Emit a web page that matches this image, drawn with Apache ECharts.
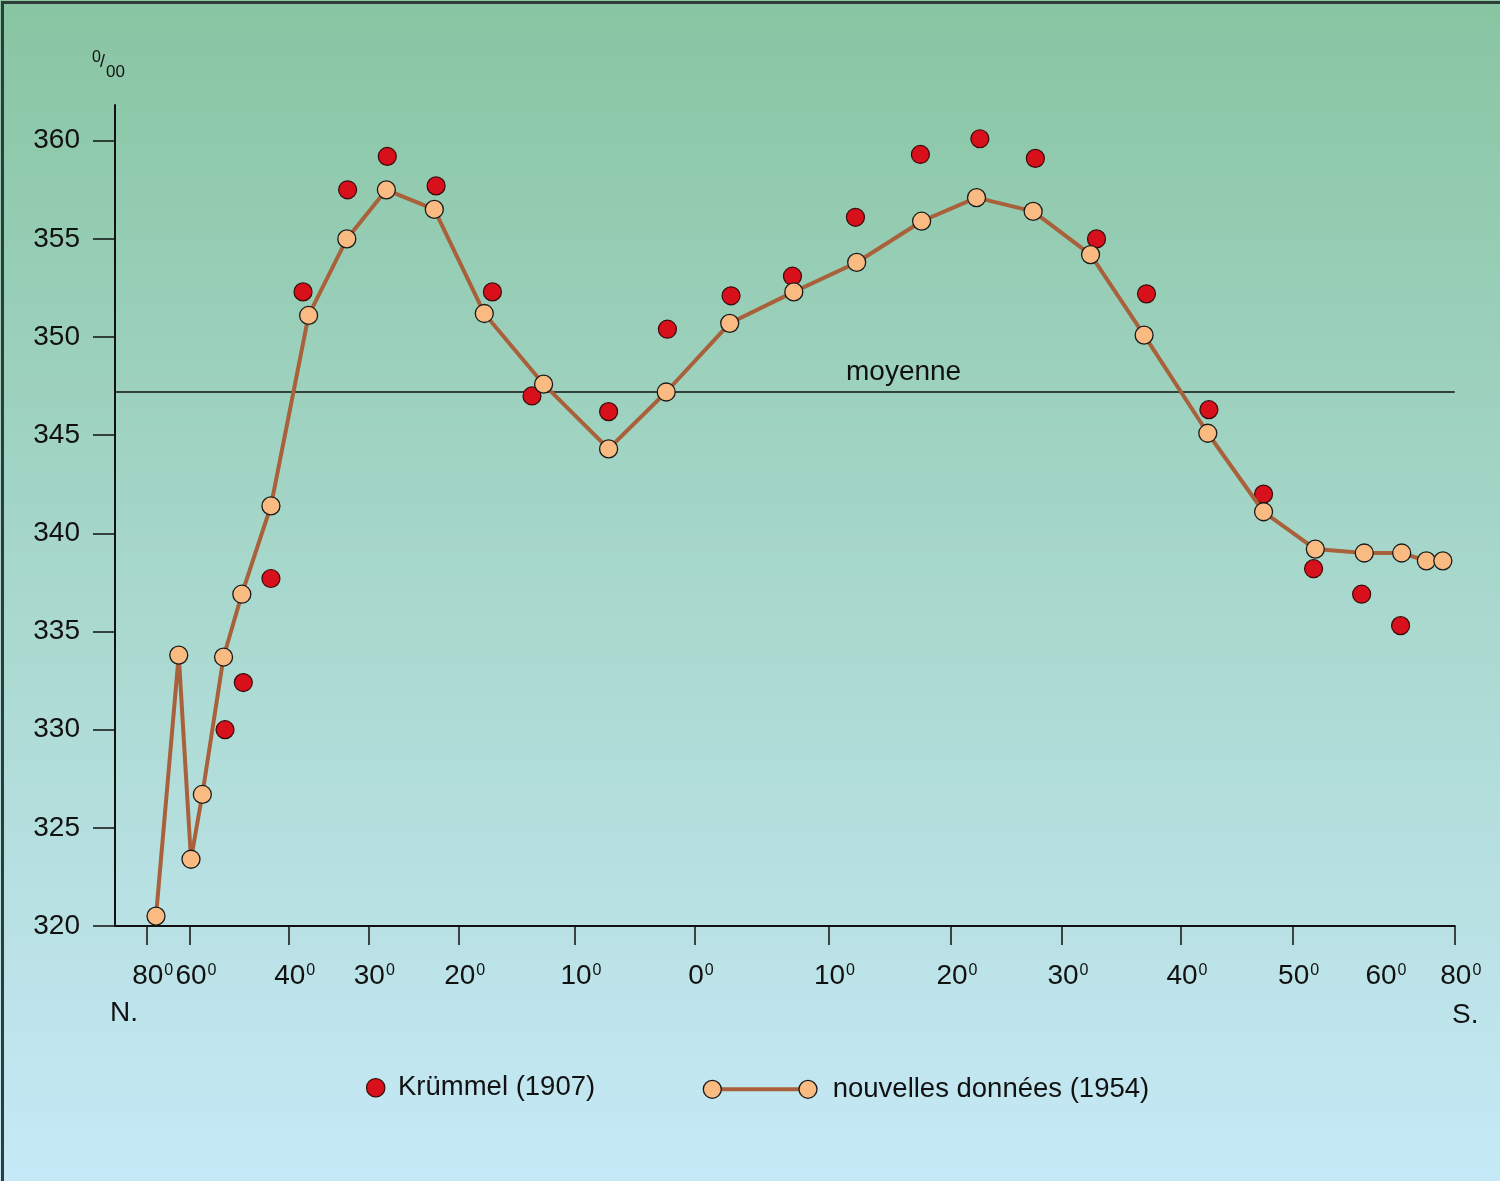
<!DOCTYPE html>
<html>
<head>
<meta charset="utf-8">
<script src="https://cdn.jsdelivr.net/npm/echarts@6/dist/echarts.min.js"></script>
<style>
html,body{margin:0;padding:0;background:#fff;}
#chart{width:1500px;height:1181px;}
</style>
</head>
<body>
<div id="chart"></div>
<script>
// ---- Data (latitude: N positive, S negative; salinity in 0/00 x10) ----
const newLat = [75.7,65.2,59.8,57.5,53.2,49.5,43.6,37.5,32.7,28.0,22.7,17.8,12.7,7.2,2.4,-2.6,-7.4,-12.3,-17.6,-22.3,-27.4,-32.4,-36.9,-42.4,-47.4,-52.6,-58.2,-65.8,-72.4,-76.8];
const newSal = [320.5,333.8,323.4,326.7,333.7,336.9,341.4,351.1,355.0,357.5,356.5,351.2,347.6,344.3,347.2,350.7,352.3,353.8,355.9,357.1,356.4,354.2,350.1,345.1,341.1,339.2,339.0,339.0,338.6,338.6];
const krLat = [52.9,49.2,43.6,38.2,32.6,27.9,22.5,17.1,13.7,7.2,2.3,-2.7,-7.3,-12.2,-17.5,-22.6,-27.6,-32.9,-37.1,-42.5,-47.4,-52.4,-57.9,-65.5];
const krSal = [330.0,332.4,337.7,352.3,357.5,359.2,357.7,352.3,347.0,346.2,350.4,352.1,353.1,356.1,359.3,360.1,359.1,355.0,352.2,346.3,342.0,338.2,336.9,335.3];
const moyenne = 347.2;
const yTicks = [320,325,330,335,340,345,350,355,360];
// labelled latitudes of the (distorted) latitude axis and their relative spacing along it
const latStops = [80,60,40,30,20,10,0,-10,-20,-30,-40,-50,-60,-80];
const stopPos  = [-548.3,-505,-406.3,-326.7,-236.3,-120,0,133.5,256,367,486,597.6,685,759.8];
const untickedLat = [-60];
const axisStart = -580;
const seriesNames = ['Krümmel (1907)', 'nouvelles données (1954)'];

function warp(lat){
  const n = latStops.length;
  for (let i = 0; i < n - 1; i++) {
    const a = latStops[i], b = latStops[i+1];
    if (lat <= a && lat >= b) {
      return stopPos[i] + (a - lat) / (a - b) * (stopPos[i+1] - stopPos[i]);
    }
  }
  if (lat > latStops[0]) return stopPos[0] - (lat - latStops[0]) / (latStops[0]-latStops[1]) * (stopPos[1]-stopPos[0]);
  return stopPos[n-1];
}
function stopIndex(v){
  let best = 0, d = Infinity;
  stopPos.forEach((p,i)=>{ const dd = Math.abs(p - v); if (dd < d){ d = dd; best = i; } });
  return best;
}

const FONT = "'Liberation Sans', Arial, sans-serif";
const RED = '#d7101b', PEACH = '#f9bb82', BROWN = '#a8613a', INK = '#111';

const chart = echarts.init(document.getElementById('chart'), null, {renderer:'canvas'});
const option = {
  backgroundColor: {
    type:'linear', x:0, y:0, x2:0, y2:1,
    colorStops:[{offset:0,color:'#88c5a2'},{offset:0.5,color:'#a8d8cd'},{offset:1,color:'#c6e9f7'}]
  },
  animation:false,
  grid:{left:115, right:45.2, top:105, bottom:255, containLabel:false},
  xAxis:{
    type:'value', min:axisStart, max:stopPos[stopPos.length-1],
    axisLine:{show:true, onZero:false, lineStyle:{color:INK, width:2}},
    axisTick:{show:true, length:19, lineStyle:{color:INK, width:1.5},
      customValues: stopPos.filter((p,i)=> untickedLat.indexOf(latStops[i]) < 0)},
    splitLine:{show:false},
    axisLabel:{
      customValues: stopPos,
      margin:35,
      padding:[0,0,0,12],
      hideOverlap:false,
      formatter: v => '{d|' + Math.abs(latStops[stopIndex(v)]) + '}{s|0}',
      rich:{
        d:{fontSize:28, fontFamily:FONT, color:INK, lineHeight:30},
        s:{fontSize:16, fontFamily:FONT, color:INK, lineHeight:16, verticalAlign:'top', padding:[2,0,0,1]}
      }
    }
  },
  yAxis:{
    type:'value', min:320, max:361.82,
    axisLine:{show:true, onZero:false, lineStyle:{color:INK, width:2}},
    axisTick:{show:true, length:22, lineStyle:{color:INK, width:1.5}, customValues: yTicks},
    splitLine:{show:false},
    axisLabel:{customValues: yTicks, margin:35, fontSize:28, fontFamily:FONT, color:INK, padding:[4,0,0,0]}
  },
  series:[
    {
      name: seriesNames[0], type:'scatter',
      symbol:'circle', symbolSize:18,
      itemStyle:{color:RED, borderColor:'#3a0a0a', borderWidth:1.2, opacity:1},
      data: krLat.map((l,i)=>[warp(l), krSal[i]]),
      z:2
    },
    {
      name: seriesNames[1], type:'line',
      symbol:'circle', symbolSize:18, showAllSymbol:true,
      lineStyle:{color:BROWN, width:4},
      itemStyle:{color:PEACH, borderColor:'#1a1a1a', borderWidth:1.3},
      data: newLat.map((l,i)=>[warp(l), newSal[i]]),
      markLine:{
        silent:true, symbol:'none',
        lineStyle:{color:INK, width:1.5, type:'solid'},
        label:{show:false},
        data:[{yAxis: moyenne}],
        z:1
      },
      z:3
    }
  ],
  graphic:[
    {type:'rect', left:0, top:0, z:100, silent:true,
      shape:{x:0,y:0,width:1500,height:1181}, style:{fill:'none', stroke:'#2e3d3a', lineWidth:3}},
    {type:'text', x:846, y:372, style:{text:'moyenne', font:'28px '+FONT, fill:INK, textVerticalAlign:'middle'}},
    {type:'text', x:110, y:1013, style:{text:'N.', font:'28px '+FONT, fill:INK, textVerticalAlign:'middle'}},
    {type:'text', x:1452, y:1015, style:{text:'S.', font:'28px '+FONT, fill:INK, textVerticalAlign:'middle'}},
    {type:'text', x:92, y:58, style:{text:'0', font:'16px '+FONT, fill:INK, textVerticalAlign:'middle'}},
    {type:'text', x:100, y:62, style:{text:'/', font:'18px '+FONT, fill:INK, textVerticalAlign:'middle'}},
    {type:'text', x:106, y:72, style:{text:'00', font:'17px '+FONT, fill:INK, textVerticalAlign:'middle'}},
    // legend
    {type:'circle', shape:{cx:375.7, cy:1087.7, r:9.2}, style:{fill:RED, stroke:'#3a0a0a', lineWidth:1.2}},
    {type:'text', x:398, y:1087, style:{text:seriesNames[0], font:'27.5px '+FONT, fill:INK, textVerticalAlign:'middle'}},
    {type:'line', shape:{x1:712.3, y1:1089.3, x2:808, y2:1089.3}, style:{stroke:BROWN, lineWidth:4}},
    {type:'circle', shape:{cx:712.3, cy:1089.3, r:9}, style:{fill:PEACH, stroke:'#1a1a1a', lineWidth:1.3}},
    {type:'circle', shape:{cx:808, cy:1089.3, r:9}, style:{fill:PEACH, stroke:'#1a1a1a', lineWidth:1.3}},
    {type:'text', x:832.7, y:1089, style:{text:seriesNames[1], font:'27.5px '+FONT, fill:INK, textVerticalAlign:'middle'}}
  ]
};
chart.setOption(option);
</script>
</body>
</html>
